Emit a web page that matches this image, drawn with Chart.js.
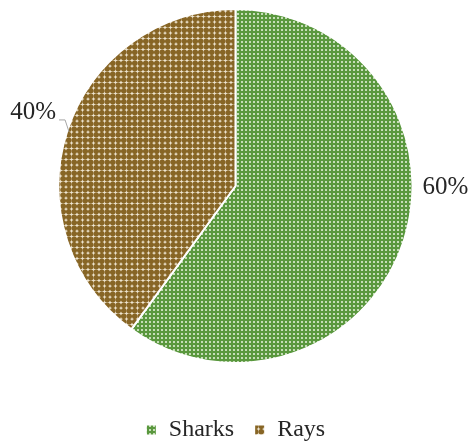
<!DOCTYPE html>
<html>
<head>
<meta charset="utf-8">
<script src="https://cdn.jsdelivr.net/npm/chart.js@4"></script>
<style>
  html, body { margin: 0; padding: 0; background: #fff; }
  #wrap { width: 471px; height: 442px; }
</style>
</head>
<body>
<div id="wrap"><canvas id="myChart"></canvas></div>
<script>
// dados do gráfico
var categorias = ['Sharks', 'Rays'];
var valores = [60, 40];

var fonte = "'Liberation Serif', 'Times New Roman', serif";

// padrão verde (xadrez)
function padraoVerde() {
  var c = document.createElement('canvas');
  c.width = 4; c.height = 4;
  var g = c.getContext('2d');
  g.fillStyle = '#5a983e';
  g.fillRect(0, 0, 4, 4);
  g.fillStyle = '#c6ddb8';
  g.fillRect(1, 1, 2, 2);
  return g.createPattern(c, 'repeat');
}

// padrão marrom (bolinhas)
function padraoMarrom() {
  var c = document.createElement('canvas');
  c.width = 11; c.height = 11;
  var g = c.getContext('2d');
  g.fillStyle = '#efe6d2';
  g.fillRect(0, 0, 11, 11);
  g.fillStyle = '#876525';
  [[2.75, 2.75], [8.25, 2.75], [2.75, 8.25], [8.25, 8.25]].forEach(function(p) {
    g.beginPath();
    g.arc(p[0], p[1], 2.8, 0, Math.PI * 2);
    g.fill();
  });
  return g.createPattern(c, 'repeat');
}

// rótulos de porcentagem fora da pizza
var rotulos = {
  id: 'rotulos',
  afterDatasetsDraw: function(chart) {
    var ctx = chart.ctx;
    var arcs = chart.getDatasetMeta(0).data;
    ctx.save();
    ctx.font = '25px ' + fonte;
    ctx.fillStyle = '#262626';
    arcs.forEach(function(arc, i) {
      var texto = valores[i] + '%';
      var r = arc.outerRadius;
      if (i === 0) {
        ctx.textAlign = 'left';
        ctx.textBaseline = 'middle';
        ctx.fillText(texto, arc.x + r + 10, arc.y + 1);
      } else {
        var meio = (arc.startAngle + arc.endAngle) / 2;
        var px = arc.x + Math.cos(meio) * (r - 2);
        var py = arc.y + Math.sin(meio) * (r - 2);
        var ex = px - 4, ey = py - 12;
        ctx.strokeStyle = '#a6a6a6';
        ctx.lineWidth = 1;
        ctx.beginPath();
        ctx.moveTo(px, py);
        ctx.lineTo(ex, ey);
        ctx.lineTo(ex - 6, ey);
        ctx.stroke();
        ctx.textAlign = 'right';
        ctx.textBaseline = 'alphabetic';
        ctx.fillText(texto, ex - 9, ey - 1);
      }
    });
    ctx.restore();
  }
};

var ctx = document.getElementById('myChart').getContext('2d');
var myChart = new Chart(ctx, {
  type: 'pie',
  data: {
    labels: categorias,
    datasets: [{
      data: valores,
      backgroundColor: [padraoVerde(), padraoMarrom()],
      borderColor: '#ffffff',
      borderWidth: 2
    }]
  },
  options: {
    responsive: true,
    maintainAspectRatio: false,
    animation: false,
    layout: {
      padding: { top: 8, bottom: -10, left: 0, right: 0 }
    },
    plugins: {
      tooltip: { enabled: false },
      legend: {
        position: 'bottom',
        title: {
          display: true,
          text: '',
          font: { size: 10 },
          padding: 11
        },
        labels: {
          boxWidth: 11,
          boxHeight: 11,
          padding: 20,
          color: '#262626',
          font: { family: fonte, size: 24 }
        }
      }
    }
  },
  plugins: [rotulos]
});
</script>
</body>
</html>
